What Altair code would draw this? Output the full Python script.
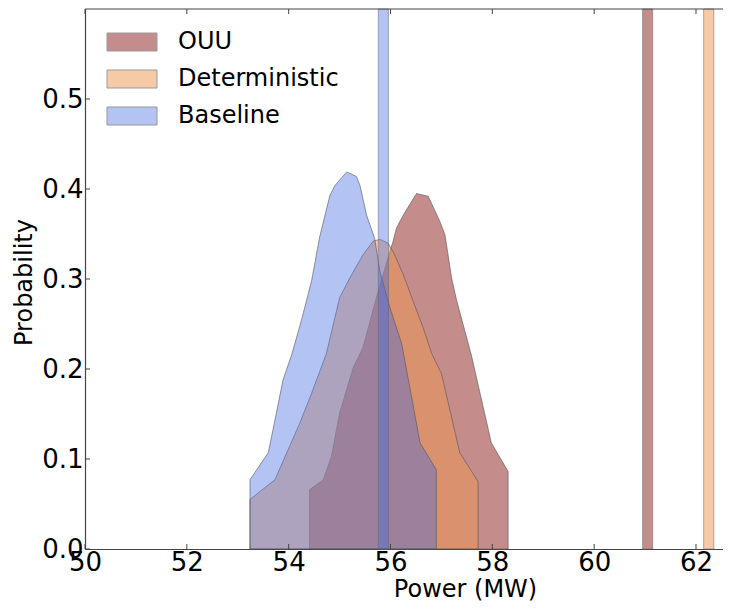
import altair as alt
import pandas as pd

# ---- data ----
series_names = ["OUU", "Deterministic", "Baseline"]
series_fill = ["rgba(139,26,26,0.5)", "rgba(240,150,80,0.5)", "rgba(65,105,225,0.4)"]

ouu_x = [54.41, 54.68, 54.84, 55.00, 55.27, 55.46, 55.75, 56.05, 56.12, 56.25,
         56.51, 56.74, 56.97, 57.07, 57.20, 57.30, 57.59, 57.98, 58.31]
ouu_p = [0.066, 0.077, 0.103, 0.151, 0.202, 0.224, 0.285, 0.342, 0.357, 0.371,
         0.395, 0.392, 0.364, 0.349, 0.301, 0.276, 0.215, 0.118, 0.086]

det_x = [53.24, 53.73, 54.22, 54.45, 54.74, 55.00, 55.20, 55.46, 55.66, 55.79,
         55.95, 56.08, 56.25, 56.44, 56.64, 56.81, 57.00, 57.36, 57.72]
det_p = [0.055, 0.077, 0.140, 0.173, 0.217, 0.279, 0.301, 0.327, 0.342, 0.344,
         0.340, 0.327, 0.305, 0.276, 0.246, 0.217, 0.195, 0.107, 0.075]

base_x = [53.24, 53.60, 53.69, 53.89, 54.06, 54.25, 54.45, 54.61, 54.81, 54.91,
          55.14, 55.33, 55.40, 55.53, 55.69, 55.79, 55.99, 56.22, 56.58, 56.90]
base_p = [0.077, 0.107, 0.132, 0.188, 0.216, 0.254, 0.298, 0.347, 0.393, 0.404,
          0.419, 0.414, 0.404, 0.371, 0.345, 0.309, 0.268, 0.228, 0.118, 0.088]

band_lo = [60.95, 62.15, 55.76]
band_hi = [61.15, 62.35, 55.96]

x_ticks = [50, 52, 54, 56, 58, 60, 62]
y_ticks = [0.0, 0.1, 0.2, 0.3, 0.4, 0.5]

# ---- tables ----
rows = []
for name, xs, ps in [("OUU", ouu_x, ouu_p), ("Deterministic", det_x, det_p), ("Baseline", base_x, base_p)]:
    for xv, pv in zip(xs, ps):
        rows.append({"x": xv, "y": pv, "series": name})
curves = pd.DataFrame(rows)
bands = pd.DataFrame({"x": band_lo, "x2": band_hi, "series": series_names})
xt = pd.DataFrame({"x": x_ticks})
yt = pd.DataFrame({"y": y_ticks})

W, H = 638, 540
FONT = "DejaVu Sans"

xscale = alt.Scale(domain=[50, 62.53], nice=False, zero=False)
yscale = alt.Scale(domain=[0, 0.6], nice=False, zero=False)

xaxis = alt.Axis(values=x_ticks, format="d", labelFontSize=26, labelFont=FONT, labelPadding=0,
                 ticks=False, grid=False, domainColor="#444", domainWidth=1.2,
                 labelFlush=False, labelOverlap=False, labelColor="black",
                 title="Power (MW)", titleFont=FONT, titleFontSize=24, titleFontWeight="normal",
                 titleColor="black", titleBaseline="alphabetic", titleAlign="center",
                 titleX=380, titleY=47)
yaxis = alt.Axis(values=y_ticks, format=".1f", labelFontSize=26, labelFont=FONT, labelPadding=2,
                 ticks=False, grid=False, domainColor="#444", domainWidth=1.2,
                 labelOverlap=False, labelColor="black",
                 title="Probability", titleFont=FONT, titleFontSize=24, titleFontWeight="normal",
                 titleColor="black", titleBaseline="alphabetic", titleAlign="center",
                 titleAngle=270, titleX=-54, titleY=273)

X = alt.X("x:Q", scale=xscale, axis=xaxis)
Y = alt.Y("y:Q", scale=yscale, axis=yaxis)

color = alt.Color("series:N",
                  scale=alt.Scale(domain=series_names, range=series_fill),
                  legend=alt.Legend(orient="none", legendX=34, legendY=20, title=None,
                                    symbolType="M-2,-0.72H2V0.72H-2Z", symbolSize=625,
                                    symbolStrokeColor="#999", symbolStrokeWidth=1,
                                    symbolOpacity=1, labelLimit=0,
                                    labelFont=FONT, labelFontSize=24, labelColor="black",
                                    labelOffset=33, rowPadding=12, padding=0))

layers = []
for name in series_names:
    layers.append(
        alt.Chart(curves).transform_filter(alt.datum.series == name)
        .mark_area(stroke="#555", strokeWidth=1, strokeOpacity=0.6, opacity=1, interpolate="linear")
        .encode(x=X, y=Y, color=color)
    )

layers.append(
    alt.Chart(bands).mark_rect(stroke="#666", strokeWidth=1, strokeOpacity=0.5, opacity=1)
    .encode(x=X, x2="x2:Q", color=color)
)

# inward ticks
layers.append(alt.Chart(xt).mark_rule(color="#444").encode(x=X, y=alt.value(H), y2=alt.value(H - 5)))
layers.append(alt.Chart(xt).mark_rule(color="#444").encode(x=X, y=alt.value(0), y2=alt.value(5)))
layers.append(alt.Chart(yt).mark_rule(color="#444").encode(y=Y, x=alt.value(0), x2=alt.value(5)))
# top frame line
layers.append(alt.Chart(pd.DataFrame({"k": [0]})).mark_rule(color="#444", strokeWidth=1.2)
              .encode(x=alt.value(0), x2=alt.value(W), y=alt.value(0)))

chart = (
    alt.layer(*layers)
    .properties(width=W, height=H, autosize=alt.AutoSizeParams(type="none"),
                padding={"left": 77, "top": 1, "right": 0, "bottom": 52})
    .configure_view(stroke=None)
)

chart.save("out.html", embed_options={"renderer": "svg", "actions": False})
